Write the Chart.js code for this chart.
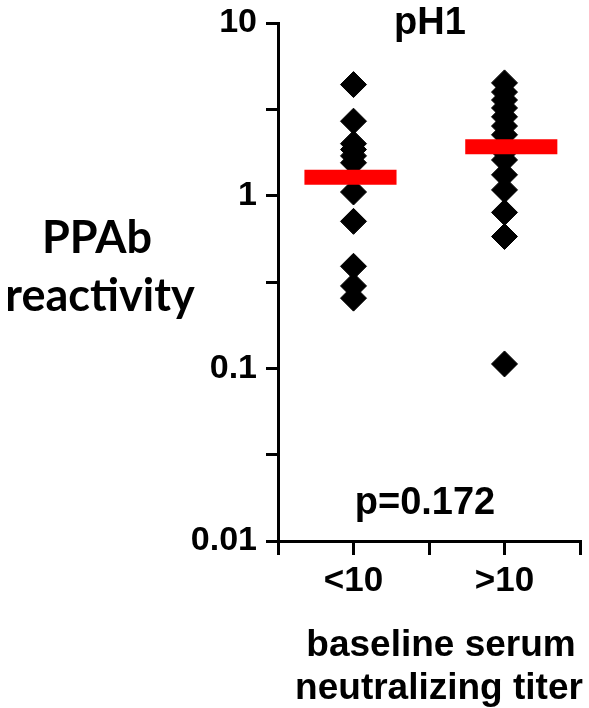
<!DOCTYPE html>
<html>
<head>
<meta charset="utf-8">
<script src="https://cdn.jsdelivr.net/npm/chart.js@4"></script>
<style>
  html, body { margin: 0; padding: 0; background: #fff; overflow: hidden; }
  #wrap { width: 589px; height: 708px; }
  canvas { display: block; }
</style>
</head>
<body>
<div id="wrap"><canvas id="grafico"></canvas></div>
<script>
// grupos (posição no eixo x) e rótulos
const categorias = ['<10', '>10'];
const posicoesX = [1, 3];

// valores (reatividade PPAb)
const grupoMenor10 = [4.4, 2.7, 2.0, 1.85, 1.7, 1.55, 1.05, 0.71, 0.39, 0.30, 0.255];
const grupoMaior10 = [4.5, 3.98, 3.58, 3.22, 2.86, 2.53, 2.25, 1.97, 1.79, 1.61, 1.32, 1.08, 0.80, 0.58, 0.106];

// médias (barras vermelhas)
const medias = [1.28, 1.92];

// ticks do eixo y (meias décadas)
const yTicksValores = [0.01, 0.0316, 0.1, 0.316, 1, 3.16, 10];
const yTicksRotulos = ['0.01', '', '0.1', '', '1', '', '10'];

const titulo = 'pH1';
const textoP = 'p=0.172';
const tituloY = ['PPAb', 'reactivity'];
const tituloX = ['baseline serum', 'neutralizing titer'];

const FONTE = '"Liberation Sans", Arial, sans-serif';

// monta os pontos de cada grupo
function pontos(valores, x) {
    return valores.map(v => ({ x: x, y: v }));
}

// barra da média: meia largura e pequeno desvio em unidades do eixo x
const meiaBarra = 0.61;
const desvioBarra = [-0.04, 0.09];
function barraMedia(i) {
    const c = posicoesX[i] + desvioBarra[i];
    return [
        { x: c - meiaBarra, y: medias[i] },
        { x: c + meiaBarra, y: medias[i] }
    ];
}

// textos fora da área do gráfico
const textosPlugin = {
    id: 'textos',
    afterDraw(chart) {
        const ctx = chart.ctx;
        const area = chart.chartArea;
        ctx.save();
        ctx.fillStyle = '#000';
        ctx.textAlign = 'center';
        ctx.textBaseline = 'middle';

        ctx.font = 'bold 38px ' + FONTE;
        ctx.fillText(titulo, 430, area.top + 1);
        ctx.fillText(textoP, 425, area.bottom - 37);

        ctx.font = 'bold 37px ' + FONTE;
        ctx.fillText(tituloX[0], 441, 646);
        ctx.fillText(tituloX[1], 439, 689);

        ctx.font = 'bold 45px Lato, "Open Sans", sans-serif';
        ctx.fillText(tituloY[0], 97, 238);
        ctx.fillText(tituloY[1], 100, 296);
        ctx.restore();
    }
};

document.addEventListener('DOMContentLoaded', function() {
    const ctx = document.getElementById('grafico').getContext('2d');

    new Chart(ctx, {
        type: 'scatter',
        data: {
            datasets: [
                {
                    type: 'line',
                    data: barraMedia(0),
                    borderColor: '#ff0000',
                    borderWidth: 15,
                    borderCapStyle: 'butt',
                    pointRadius: 0,
                    order: 0
                },
                {
                    type: 'line',
                    data: barraMedia(1),
                    borderColor: '#ff0000',
                    borderWidth: 15,
                    borderCapStyle: 'butt',
                    pointRadius: 0,
                    order: 0
                },
                {
                    data: pontos(grupoMenor10, posicoesX[0]),
                    pointStyle: 'rectRot',
                    pointRadius: 13,
                    backgroundColor: '#000',
                    borderColor: '#000',
                    borderWidth: 1,
                    order: 1
                },
                {
                    data: pontos(grupoMaior10, posicoesX[1]),
                    pointStyle: 'rectRot',
                    pointRadius: 13,
                    backgroundColor: '#000',
                    borderColor: '#000',
                    borderWidth: 1,
                    order: 1
                }
            ]
        },
        options: {
            responsive: true,
            maintainAspectRatio: false,
            animation: false,
            clip: false,
            layout: {
                autoPadding: false,
                padding: { top: 23, right: 9, bottom: 0, left: 0 }
            },
            scales: {
                x: {
                    type: 'linear',
                    min: 0,
                    max: 4,
                    afterFit: function(scale) {
                        scale.height = 167;
                        scale.paddingLeft = 0;
                        scale.paddingRight = 0;
                    },
                    ticks: {
                        stepSize: 1,
                        autoSkip: false,
                        maxRotation: 0,
                        padding: 5,
                        color: '#000',
                        font: { family: FONTE, size: 35, weight: 'bold' },
                        callback: function(value) {
                            const i = posicoesX.indexOf(value);
                            return i >= 0 ? categorias[i] : '';
                        }
                    },
                    grid: {
                        drawOnChartArea: false,
                        drawTicks: true,
                        tickLength: 14,
                        color: '#000',
                        lineWidth: 3
                    },
                    border: { display: true, color: '#000', width: 3 }
                },
                y: {
                    type: 'logarithmic',
                    min: 0.01,
                    max: 10,
                    afterFit: function(scale) {
                        scale.width = 278;
                        scale.paddingTop = 0;
                        scale.paddingBottom = 0;
                    },
                    afterBuildTicks: function(scale) {
                        scale.ticks = yTicksValores.map(v => ({ value: v }));
                    },
                    ticks: {
                        autoSkip: false,
                        padding: 9,
                        color: '#000',
                        font: { family: FONTE, size: 34, weight: 'bold' },
                        callback: function(value, index) {
                            return yTicksRotulos[index];
                        }
                    },
                    grid: {
                        drawOnChartArea: false,
                        drawTicks: true,
                        tickLength: 12,
                        color: '#000',
                        lineWidth: 3
                    },
                    border: { display: true, color: '#000', width: 3 }
                }
            },
            plugins: {
                legend: { display: false },
                tooltip: { enabled: false }
            }
        },
        plugins: [textosPlugin]
    });
});
</script>
</body>
</html>
